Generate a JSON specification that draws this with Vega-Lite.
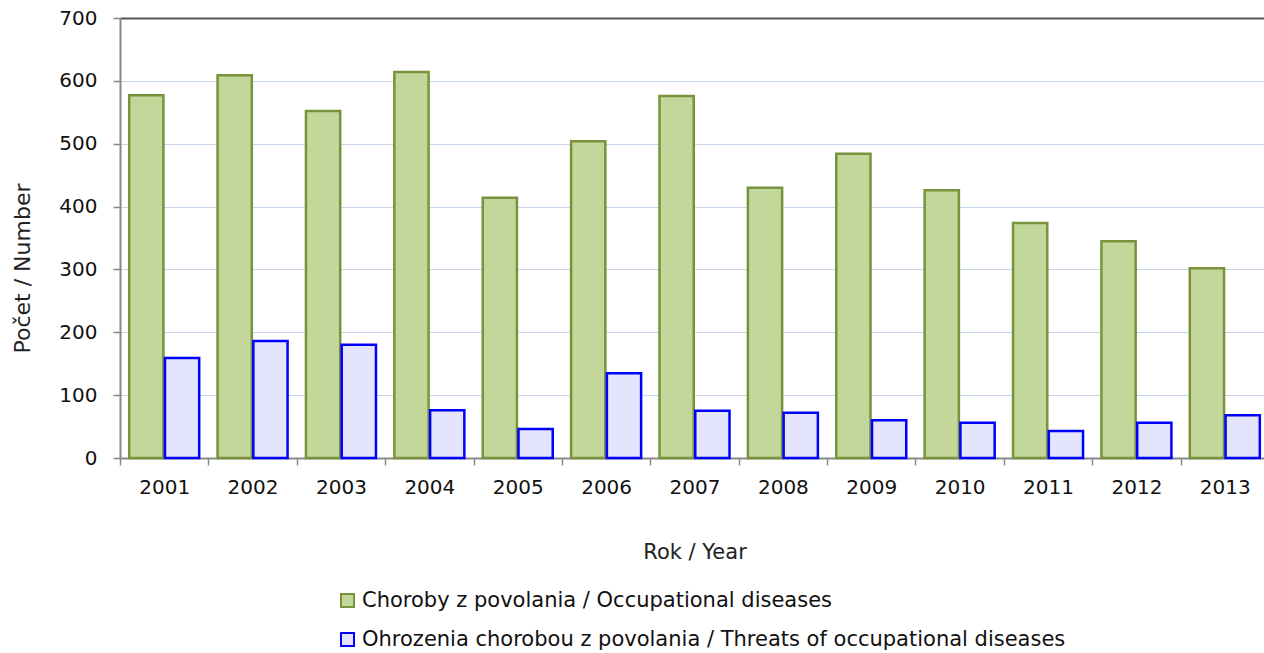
{
  "$schema": "https://vega.github.io/schema/vega-lite/v6.json",
  "autosize": "none",
  "width": 1144,
  "height": 440,
  "padding": {"left": 120, "top": 18, "right": 0, "bottom": 195},
  "background": "white",
  "config": {
    "view": {"stroke": null},
    "font": "DejaVu Sans"
  },
  "data": {
    "values": [
      {"year": "2001", "series": "Choroby z povolania / Occupational diseases", "value": 577},
      {"year": "2001", "series": "Ohrozenia chorobou z povolania / Threats of occupational diseases", "value": 159},
      {"year": "2002", "series": "Choroby z povolania / Occupational diseases", "value": 609},
      {"year": "2002", "series": "Ohrozenia chorobou z povolania / Threats of occupational diseases", "value": 186},
      {"year": "2003", "series": "Choroby z povolania / Occupational diseases", "value": 552},
      {"year": "2003", "series": "Ohrozenia chorobou z povolania / Threats of occupational diseases", "value": 180},
      {"year": "2004", "series": "Choroby z povolania / Occupational diseases", "value": 614},
      {"year": "2004", "series": "Ohrozenia chorobou z povolania / Threats of occupational diseases", "value": 76},
      {"year": "2005", "series": "Choroby z povolania / Occupational diseases", "value": 414},
      {"year": "2005", "series": "Ohrozenia chorobou z povolania / Threats of occupational diseases", "value": 46},
      {"year": "2006", "series": "Choroby z povolania / Occupational diseases", "value": 504},
      {"year": "2006", "series": "Ohrozenia chorobou z povolania / Threats of occupational diseases", "value": 135},
      {"year": "2007", "series": "Choroby z povolania / Occupational diseases", "value": 576},
      {"year": "2007", "series": "Ohrozenia chorobou z povolania / Threats of occupational diseases", "value": 75},
      {"year": "2008", "series": "Choroby z povolania / Occupational diseases", "value": 430},
      {"year": "2008", "series": "Ohrozenia chorobou z povolania / Threats of occupational diseases", "value": 72},
      {"year": "2009", "series": "Choroby z povolania / Occupational diseases", "value": 484},
      {"year": "2009", "series": "Ohrozenia chorobou z povolania / Threats of occupational diseases", "value": 60},
      {"year": "2010", "series": "Choroby z povolania / Occupational diseases", "value": 426},
      {"year": "2010", "series": "Ohrozenia chorobou z povolania / Threats of occupational diseases", "value": 56},
      {"year": "2011", "series": "Choroby z povolania / Occupational diseases", "value": 374},
      {"year": "2011", "series": "Ohrozenia chorobou z povolania / Threats of occupational diseases", "value": 43},
      {"year": "2012", "series": "Choroby z povolania / Occupational diseases", "value": 345},
      {"year": "2012", "series": "Ohrozenia chorobou z povolania / Threats of occupational diseases", "value": 56},
      {"year": "2013", "series": "Choroby z povolania / Occupational diseases", "value": 302},
      {"year": "2013", "series": "Ohrozenia chorobou z povolania / Threats of occupational diseases", "value": 68}
    ]
  },
  "mark": {"type": "bar", "strokeWidth": 2.5},
  "encoding": {
    "x": {
      "field": "year",
      "type": "nominal",
      "scale": {"range": [0, 1149], "paddingInner": 0.208, "paddingOuter": 0.104},
      "axis": {
        "title": "Rok / Year",
        "titleFont": "DejaVu Sans",
        "titleFontSize": 21,
        "titleFontWeight": "normal",
        "titleColor": "#222222",
        "titlePadding": 44,
        "labelAngle": 0,
        "labelFont": "DejaVu Sans",
        "labelFontSize": 20,
        "labelColor": "#111111",
        "labelPadding": 12,
        "labelOffset": 44.2,
        "domainColor": "#888888",
        "domainWidth": 2,
        "tickColor": "#888888",
        "tickWidth": 1.5,
        "tickSize": 7,
        "tickOffset": -44.2,
        "grid": false
      }
    },
    "xOffset": {
      "field": "series",
      "scale": {"paddingInner": 0.043}
    },
    "y": {
      "field": "value",
      "type": "quantitative",
      "scale": {"domain": [0, 700], "nice": false},
      "axis": {
        "title": "Počet / Number",
        "titleFont": "DejaVu Sans",
        "titleFontSize": 22,
        "titleFontWeight": "normal",
        "titleColor": "#222222",
        "titlePadding": 24,
        "titleY": 250,
        "values": [0, 100, 200, 300, 400, 500, 600, 700],
        "labelFont": "DejaVu Sans",
        "labelFontSize": 20,
        "labelColor": "#111111",
        "labelPadding": 16,
        "domainColor": "#888888",
        "domainWidth": 2,
        "tickColor": "#888888",
        "tickWidth": 1.5,
        "tickSize": 7,
        "grid": true,
        "gridColor": {"condition": {"test": "datum.value === 700", "value": "#555555"}, "value": "#c5d5ea"},
        "gridWidth": {"condition": {"test": "datum.value === 700", "value": 2}, "value": 1.2}
      }
    },
    "fill": {
      "field": "series",
      "type": "nominal",
      "scale": {"range": ["#c4d79b", "#e4e4fc"]},
      "legend": {
        "title": null,
        "orient": "none",
        "legendX": 217,
        "legendY": 572,
        "direction": "vertical",
        "symbolType": "square",
        "symbolSize": 169,
        "symbolStrokeWidth": 2,
        "labelFont": "DejaVu Sans",
        "labelFontSize": 21,
        "labelColor": "#111111",
        "labelOffset": 4,
        "rowPadding": 17,
        "labelLimit": 900
      }
    },
    "stroke": {
      "field": "series",
      "type": "nominal",
      "scale": {"range": ["#77933c", "#0000ff"]},
      "legend": {
        "title": null,
        "orient": "none",
        "legendX": 217,
        "legendY": 572,
        "direction": "vertical",
        "symbolType": "square",
        "symbolSize": 169,
        "symbolStrokeWidth": 2,
        "labelFont": "DejaVu Sans",
        "labelFontSize": 21,
        "labelColor": "#111111",
        "labelOffset": 4,
        "rowPadding": 17,
        "labelLimit": 900
      }
    }
  }
}
